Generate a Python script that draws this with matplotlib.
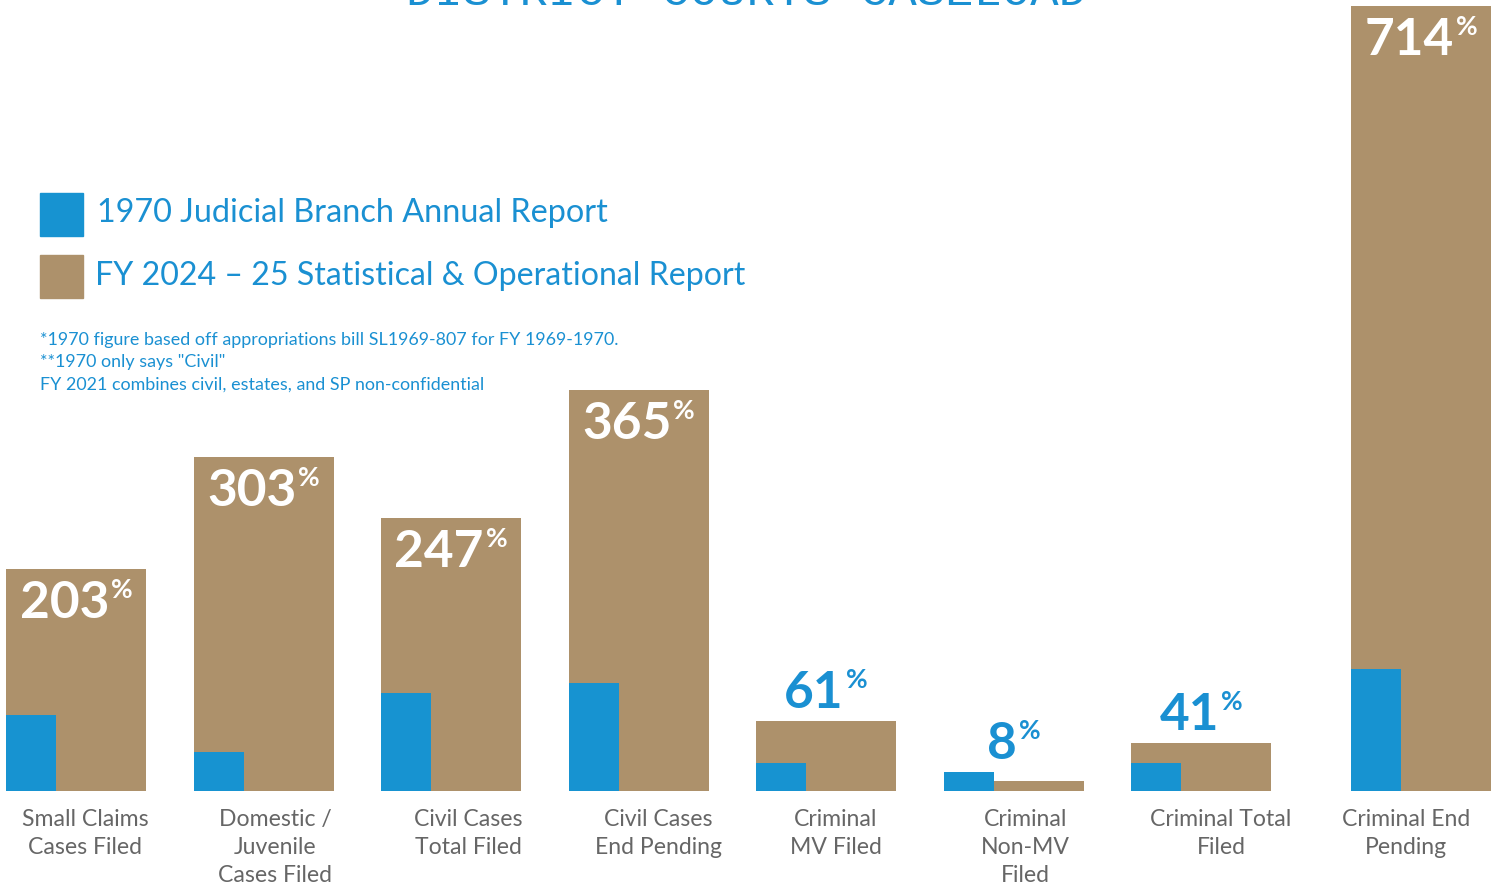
import matplotlib
matplotlib.use("Agg")
import matplotlib.pyplot as plt
from matplotlib.patches import Rectangle

# bar heights (same arbitrary unit for both series)
categories = [
    "Small Claims\nCases Filed",
    "Domestic /\nJuvenile\nCases Filed",
    "Civil Cases\nTotal Filed",
    "Civil Cases\nEnd Pending",
    "Criminal\nMV Filed",
    "Criminal\nNon-MV\nFiled",
    "Criminal Total\nFiled",
    "Criminal End\nPending",
]
fy2025 = [222, 334, 273, 401, 70, 10, 48, 785]
y1970 = [76, 39, 98, 108, 28, 19, 28, 122]
pct_labels = ["203", "303", "247", "365", "61", "8", "41", "714"]

legend_1970 = "1970 Judicial Branch Annual Report"
legend_2025 = "FY 2024 \u2013 25 Statistical & Operational Report"
notes = [
    '*1970 figure based off appropriations bill SL1969-807 for FY 1969-1970.',
    '**1970 only says "Civil"',
    'FY 2021 combines civil, estates, and SP non-confidential',
]
title = "DISTRICT COURTS CASELOAD"

BLUE = "#1793d1"
TAN = "#ad916b"
TXT_BLUE = "#1a90d2"
GRAY = "#666666"

plt.rcParams["font.family"] = ["Lato", "DejaVu Sans"]

W, H = 1499, 884
fig = plt.figure(figsize=(W / 100, H / 100), dpi=100)
base_y = 791  # pixel row of the bar baseline
ax = fig.add_axes([0, (H - base_y) / H, 1, base_y / H])
ax.set_ylim(0, base_y)
step = 187.5
ax.set_xlim(-76 / step, (W - 76) / step)
ax.axis("off")

# last group sits a bit further right in the original
xpos = [0, 1, 2, 3, 4, 5, 6, 7.173]
# the category texts are not quite centred under their bars
label_shift = [9, 12, 17, 20, 10, 12, 20, -15]
bw = 140 / step
bw_blue = 50 / step

ax.bar(xpos, fy2025, width=bw, color=TAN, zorder=1)
ax.bar([x - bw / 2 for x in xpos], y1970, width=bw_blue, align="edge",
       color=BLUE, zorder=2)

fig.canvas.draw()
renderer = fig.canvas.get_renderer()
inv = ax.transData.inverted()

for x, h, hb, lab in zip(xpos, fy2025, y1970, pct_labels):
    if h > 150:
        y = h - 49
        col = "white"
    else:
        y = max(h, hb) + 13
        col = TXT_BLUE
    num = ax.text(x, y, lab, fontsize=37, fontweight="bold", color=col,
                  ha="left", va="baseline", zorder=3)
    pc = ax.text(x, y + 20, "%", fontsize=19, fontweight="bold", color=col,
                 ha="left", va="baseline", zorder=3)
    wn = num.get_window_extent(renderer).width
    wp = pc.get_window_extent(renderer).width
    gap = 2
    total = wn + gap + wp
    px0 = ax.transData.transform((x, 0))[0] - total / 2
    num.set_x(inv.transform((px0, 0))[0])
    pc.set_x(inv.transform((px0 + wn + gap, 0))[0])

# category labels under the bars
for x, sh, cat in zip(xpos, label_shift, categories):
    ax.text(x + sh / step, -18, cat, fontsize=16.6, color=GRAY, ha="center",
            va="top", linespacing=1.4, clip_on=False)


def fx(px):
    return px / W


def fy(py):
    return 1 - py / H


# legend
fig.patches.append(Rectangle((fx(40), fy(236)), 43 / W, 43 / H,
                             transform=fig.transFigure, color=BLUE))
fig.patches.append(Rectangle((fx(40), fy(298)), 43 / W, 43 / H,
                             transform=fig.transFigure, color=TAN))
fig.text(fx(97), fy(213), legend_1970, fontsize=23.3, color=TXT_BLUE,
         va="center", ha="left")
fig.text(fx(95), fy(276), legend_2025, fontsize=23.1, color=TXT_BLUE,
         va="center", ha="left")

for i, note in enumerate(notes):
    fig.text(fx(40), fy(340 + 22.5 * i), note, fontsize=12.9,
             color=TXT_BLUE, va="center", ha="left")

# title, mostly cut off by the top edge
fig.text(0.5 * (fx(408) + fx(1085)), fy(5), title, fontsize=34,
         fontfamily="Liberation Mono", color=TXT_BLUE,
         ha="center", va="baseline")

fig.savefig("out.png", dpi=100)
